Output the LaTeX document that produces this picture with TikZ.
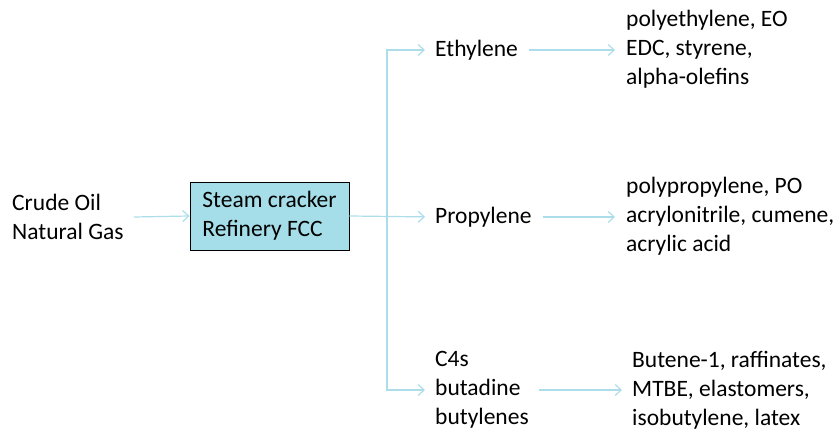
\documentclass[tikz,border=0pt]{standalone}
\usepackage{fontspec}
\setmainfont{Carlito}
\usetikzlibrary{arrows.meta}
\definecolor{lineblue}{HTML}{ADDDEA}
\definecolor{boxblue}{HTML}{A5DEE8}
\tikzset{
  txt/.style={anchor=west, inner sep=0pt, align=left, font=\fontsize{23.5}{29}\selectfont},
  procbox/.style={draw=black, line width=0.9pt, fill=boxblue, minimum width=159pt, minimum height=68pt, align=left, inner sep=0pt, font=\fontsize{23.5}{29}\selectfont},
  arr/.style={draw=lineblue, line width=1.2pt, -{Straight Barb[length=6pt,width=11pt]}}
}
\begin{document}
\begin{tikzpicture}[x=1pt,y=-1pt]
\useasboundingbox (0,0) rectangle (840,430);
\node[txt] (crude) at (12,217) {Crude Oil\\Natural Gas};
\node[procbox] (box) at (269.5,216) {Steam cracker\\Refinery FCC};
\node[txt] (eth) at (435,50) {Ethylene};
\node[txt] (prop) at (435,217) {Propylene};
\node[txt] (c4) at (435,390) {C4s\\butadine\\butylenes};
\node[txt] (p1) at (626,49) {polyethylene, EO\\EDC, styrene,\\alpha-olefins};
\node[txt] (p2) at (626,216) {polypropylene, PO\\acrylonitrile, cumene,\\acrylic acid};
\node[txt] (p3) at (632,390) {Butene-1, raffinates,\\MTBE, elastomers,\\isobutylene, latex};
\coordinate (j) at (387,216);
\draw[arr] ([xshift=10pt]crude.east) -- (box.west);
\draw[arr, shorten >=10pt] (box.east) -- (prop.west);
\draw[arr, shorten >=10pt] (j) |- (eth.west);
\draw[arr, shorten >=10pt] (j) |- (c4.west);
\draw[arr, shorten <=11pt, shorten >=11pt] (eth.east) -- (eth.east -| p1.west);
\draw[arr, shorten <=11pt, shorten >=11pt] (prop.east) -- (prop.east -| p2.west);
\draw[arr, shorten <=10pt, shorten >=10pt] (c4.east) -- (c4.east -| p3.west);
\end{tikzpicture}
\end{document}
